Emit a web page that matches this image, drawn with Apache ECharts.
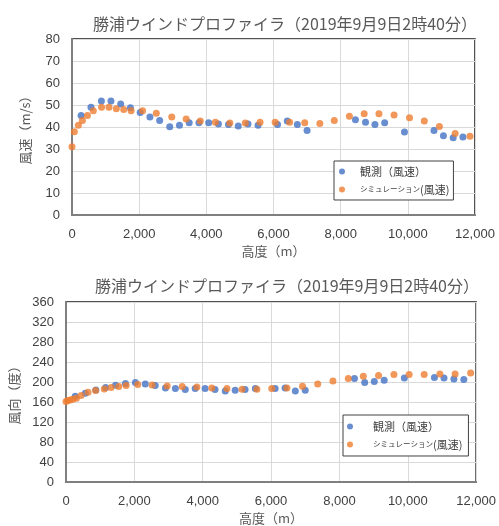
<!DOCTYPE html>
<html>
<head>
<meta charset="utf-8">
<script src="https://cdn.jsdelivr.net/npm/echarts@6/dist/echarts.min.js"></script>
<style>
  html, body { margin: 0; padding: 0; background: #fff; }
  #chart { width: 499px; height: 526px; }
</style>
</head>
<body>
<div id="chart"></div>
<script>
// Katsuura wind profiler, 2019-09-09 02:40 — observed vs simulated profiles
const titleText = '勝浦ウインドプロファイラ（2019年9月9日2時40分）';
const obsName = '観測（風速）';
const simName = 'シミュレーション(風速)';

// observation heights (m), shared by both panels
const obsHeights = [270, 565, 875, 1160, 1450, 1740, 2030, 2320, 2610, 2910, 3200, 3490, 3780, 4070, 4360, 4660,
  4950, 5240, 5540, 6120, 6410, 6710, 7000, 8440, 8740, 9020, 9310, 9900, 10780, 11060, 11350, 11640];
// observed wind speed (m/s)
const obsSpeed = [45.2, 49.0, 51.8, 51.8, 50.4, 48.7, 46.6, 44.6, 42.9, 40.1, 40.8, 41.9, 41.9, 41.9, 41.4, 41.1,
  40.5, 41.4, 40.8, 41.1, 42.7, 41.1, 38.4, 43.3, 42.2, 41.1, 41.9, 37.7, 38.4, 36.0, 35.1, 35.4];
// observed wind direction (deg)
const obsDir = [171.5, 177.5, 184, 189, 193.5, 197, 199, 196, 193, 188, 187, 185, 187, 187, 185, 182,
  183.5, 185, 187, 187, 188, 182, 183.5, 207, 199, 201, 203.5, 208, 209, 208, 206, 205];

// simulated wind speed profile
const simSpeedHeights = [0, 70, 190, 310, 460, 635, 880, 1100, 1320, 1540, 1760, 2100, 2510, 2970, 3400, 3820,
  4270, 4700, 5160, 5600, 6050, 6480, 6930, 7380, 7810, 8260, 8700, 9140, 9590, 10050, 10490, 10940, 11410, 11850];
const simSpeed = [31, 37.8, 40.8, 42.9, 45.2, 47.4, 49.0, 49.0, 48.3, 48.0, 47.4, 47.4, 46.3, 44.6, 43.6, 42.7,
  42.2, 41.8, 41.8, 42.2, 42.2, 42.2, 41.9, 41.6, 42.9, 44.9, 46.0, 46.0, 45.5, 44.2, 42.7, 40.2, 37.0, 35.8];

// simulated wind direction profile
const simDirHeights = [0, 50, 120, 200, 305, 440, 645, 865, 1120, 1320, 1545, 1760, 2100, 2520, 2960, 3400, 3830,
  4265, 4710, 5150, 5585, 6020, 6465, 6920, 7365, 7810, 8260, 8700, 9145, 9595, 10040, 10480, 10940, 11385, 11840];
const simDir = [161, 163, 164, 165.5, 167.5, 173, 179.5, 183, 186, 189, 191, 193, 195, 194, 192, 191, 190,
  188, 187, 185.5, 185.5, 187, 188, 191.5, 196, 202, 207, 211.5, 213, 215, 215, 215, 216, 216, 218];

// axis ranges
const heightRange = { min: 0, max: 12000, step: 2000 };
const speedRange = { min: 0, max: 80, step: 10 };
const dirRange = { min: 0, max: 360, step: 40 };

const BLUE = '#4472C4';
const ORANGE = '#ED7D31';
const CJK = '"Noto Sans CJK JP", "Noto Sans", sans-serif';
const NUM = '"Liberation Sans", Arial, sans-serif';

const zip = (xs, ys) => xs.map((x, i) => [x, ys[i]]);
const fmtThousands = v => String(v).replace(/\B(?=(\d{3})+(?!\d))/g, ',');

function xAxisFor(gridIndex) {
  return {
    gridIndex, type: 'value',
    min: heightRange.min, max: heightRange.max, interval: heightRange.step,
    name: '高度（m）', nameLocation: 'middle', nameGap: 30,
    nameTextStyle: { fontFamily: CJK, fontSize: 13, color: '#595959' },
    axisLine: { show: true, onZero: false, lineStyle: { color: '#7f7f7f', width: 2 } },
    axisTick: { show: false },
    axisLabel: { margin: 13, fontFamily: NUM, fontSize: 13, color: '#404040', formatter: fmtThousands },
    splitLine: { show: true, lineStyle: { color: '#d9d9d9', width: 1 } }
  };
}

function yAxisFor(gridIndex, range, name, nameGap) {
  return {
    gridIndex, type: 'value',
    min: range.min, max: range.max, interval: range.step,
    name, nameLocation: 'middle', nameGap,
    nameTextStyle: { fontFamily: CJK, fontSize: 13, color: '#595959' },
    axisLine: { show: true, lineStyle: { color: '#7f7f7f', width: 2 } },
    axisTick: { show: false },
    axisLabel: { margin: 12, fontFamily: NUM, fontSize: 13, color: '#404040' },
    splitLine: { show: true, lineStyle: { color: '#d9d9d9', width: 1 } }
  };
}

function legendFor(left, top, padding, iconGap) {
  return {
    left, top, orient: 'vertical',
    data: [obsName, simName],
    icon: 'circle', itemWidth: 12, itemHeight: 6,
    itemGap: 7,
    padding,
    backgroundColor: '#fff', borderColor: '#404040', borderWidth: 1,
    selectedMode: false,
    formatter: name => name === obsName
      ? '{a|' + name + '}'
      : '{k|シミュレーション}{f|(風速)}',
    textStyle: {
      color: '#404040',
      rich: {
        a: { fontFamily: CJK, fontSize: 11, lineHeight: 14, color: '#404040', padding: [0, 0, 0, iconGap] },
        k: { fontFamily: CJK, fontSize: 7.5, lineHeight: 14, color: '#404040', padding: [0, 0, 0, iconGap] },
        f: { fontFamily: CJK, fontSize: 11, lineHeight: 14, color: '#404040' }
      }
    }
  };
}

const chart = echarts.init(document.getElementById('chart'), null, { renderer: 'canvas' });
chart.setOption({
  animation: false,
  backgroundColor: '#fff',
  title: [
    { text: titleText, left: 280, top: 11, textAlign: 'center',
      textStyle: { fontFamily: CJK, fontSize: 16, fontWeight: 'normal', color: '#595959' } },
    { text: titleText, left: 282, top: 273, textAlign: 'center',
      textStyle: { fontFamily: CJK, fontSize: 16, fontWeight: 'normal', color: '#595959' } }
  ],
  grid: [
    { left: 72, top: 39, width: 403, height: 176, show: true, borderColor: '#1a1a1a', borderWidth: 1.5, containLabel: false },
    { left: 66, top: 302, width: 413, height: 181, show: true, borderColor: '#1a1a1a', borderWidth: 1.5, containLabel: false }
  ],
  xAxis: [xAxisFor(0), xAxisFor(1)],
  yAxis: [yAxisFor(0, speedRange, '風速（m/s）', 40), yAxisFor(1, dirRange, '風向（度）', 45)],
  legend: [
    legendFor(334, 161, [5, 4, 5, 5], 7),
    legendFor(343, 415, [6, 6, 6, 4], 12)
  ],
  series: [
    { name: obsName, type: 'scatter', xAxisIndex: 0, yAxisIndex: 0, symbolSize: 7,
      itemStyle: { color: BLUE }, data: zip(obsHeights, obsSpeed) },
    { name: simName, type: 'scatter', xAxisIndex: 0, yAxisIndex: 0, symbolSize: 7,
      itemStyle: { color: ORANGE }, data: zip(simSpeedHeights, simSpeed) },
    { name: obsName, type: 'scatter', xAxisIndex: 1, yAxisIndex: 1, symbolSize: 7,
      itemStyle: { color: BLUE }, data: zip(obsHeights, obsDir) },
    { name: simName, type: 'scatter', xAxisIndex: 1, yAxisIndex: 1, symbolSize: 7,
      itemStyle: { color: ORANGE }, data: zip(simDirHeights, simDir) }
  ]
});
</script>
</body>
</html>
